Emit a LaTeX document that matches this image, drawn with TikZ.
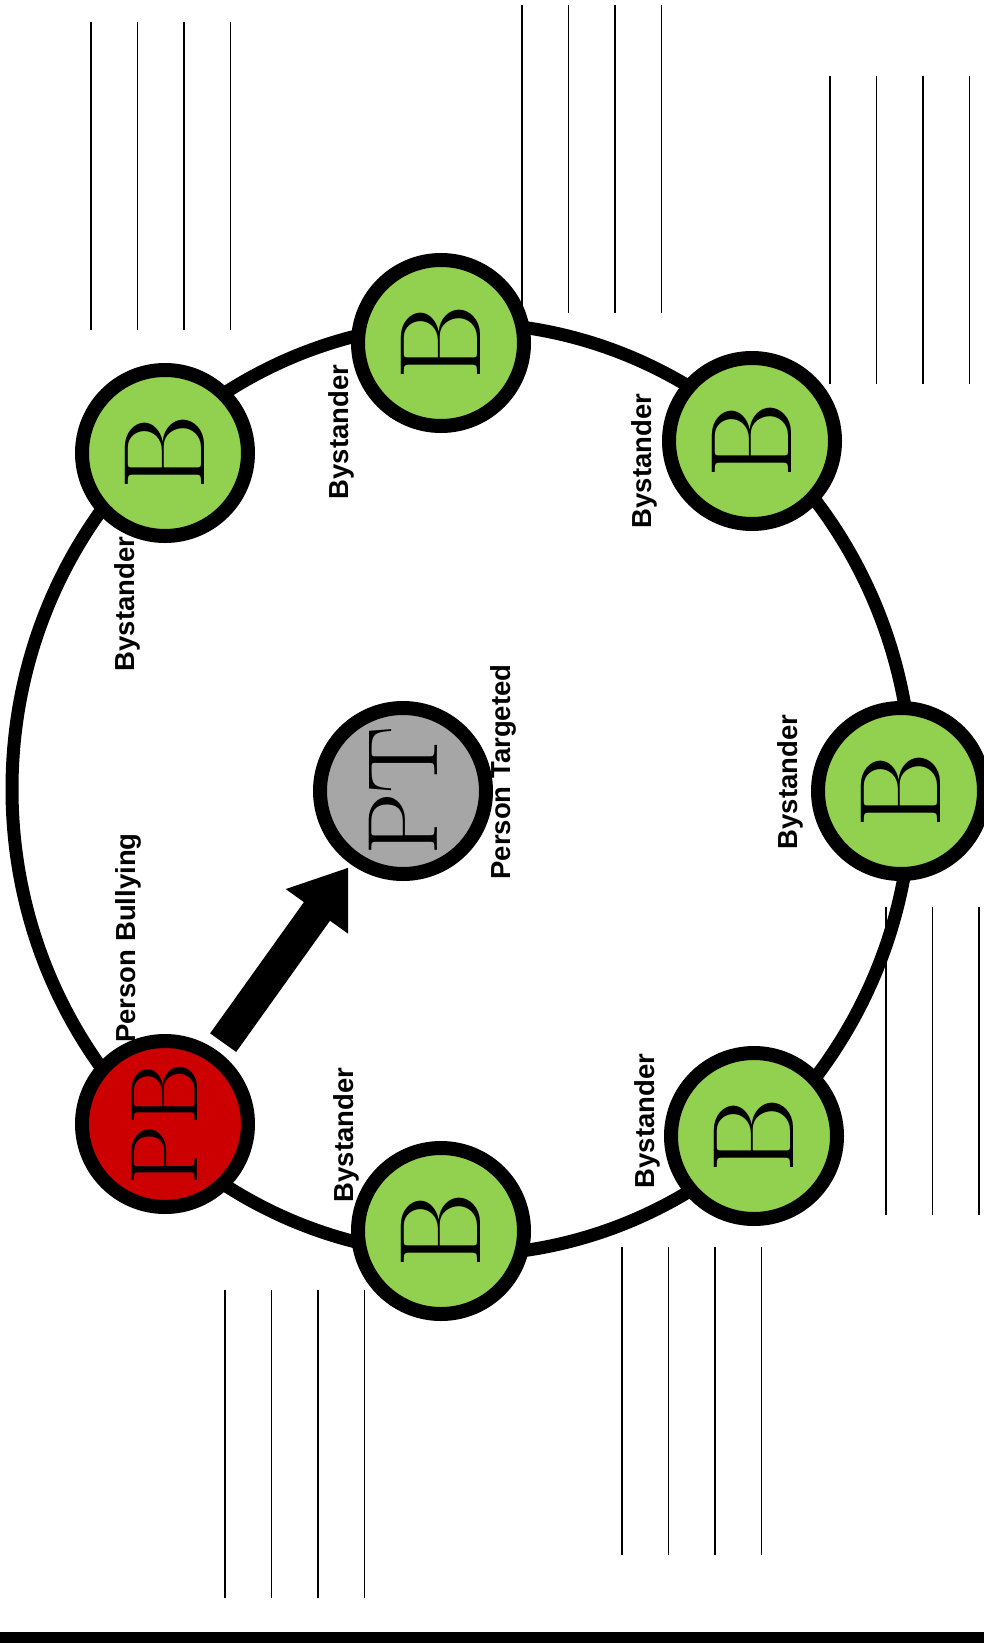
\documentclass[tikz,border=0pt]{standalone}
\usepackage{fontspec}
\setsansfont{Liberation Sans}
\usetikzlibrary{arrows.meta}
\definecolor{bgreen}{RGB}{146,208,80}
\definecolor{pbred}{RGB}{204,0,0}
\definecolor{ptgray}{RGB}{166,166,166}
\begin{document}
\begin{tikzpicture}[x=0.5pt,y=-0.5pt,
    person/.style={circle,draw=black,line width=7pt,minimum size=83pt,inner sep=0pt,rotate=90},
    bystander/.style={person,fill=bgreen,font=\fontsize{58}{60}\selectfont},
    role/.style={rotate=90,inner sep=0pt,font=\sffamily\bfseries\fontsize{13.75}{16}\selectfont},
    wline/.style={line width=0.6pt}]
      \useasboundingbox (0,0) rectangle (984,1643);
      \foreach \gx/\gy/\n in {91/22/3,522/5/3,830/76/3,886/907/2,622/1247/3,225/1290/3}
        \foreach \i in {0,...,\n}
          \draw[wline] (\gx+46.5*\i,\gy) -- ++(0,308); %記入欄
      \draw[line width=6.5pt] (462,789) ellipse [x radius=450,y radius=466]; %外周
      \node[role] (lB1) at (127,604) {Bystander};
      \node[role] (lB2) at (341,432) {Bystander};
      \node[role] (lB3) at (644,461) {Bystander};
      \node[role] (lB4) at (790,782) {Bystander};
      \node[role] (lB5) at (647,1121) {Bystander};
      \node[role] (lB6) at (346,1135) {Bystander};
      \node[role] (lPB) at (128,938) {Person Bullying};
      \node[role] (lPT) at (503,772) {Person Targeted};
      \node[bystander] (B1) at (165,453) {B};
      \node[bystander] (B2) at (441,343) {B};
      \node[bystander] (B3) at (752,441) {B};
      \node[bystander] (B4) at (901,791) {B};
      \node[bystander] (B5) at (754,1136) {B};
      \node[bystander] (B6) at (441,1231) {B};
      \node[person,fill=pbred,font=\fontsize{48}{50}\selectfont] (PB) at (165,1124) {PB};
      \node[person,fill=ptgray,font=\fontsize{50}{52}\selectfont] (PT) at (403,791) {PT};
      \draw[-{Triangle[length=27pt,width=36.5pt]},line width=16pt,shorten <=5pt,shorten >=2pt] (PB)--(PT); %矢印
      \fill (0,1632) rectangle (984,1643);
    \end{tikzpicture}
\end{document}
